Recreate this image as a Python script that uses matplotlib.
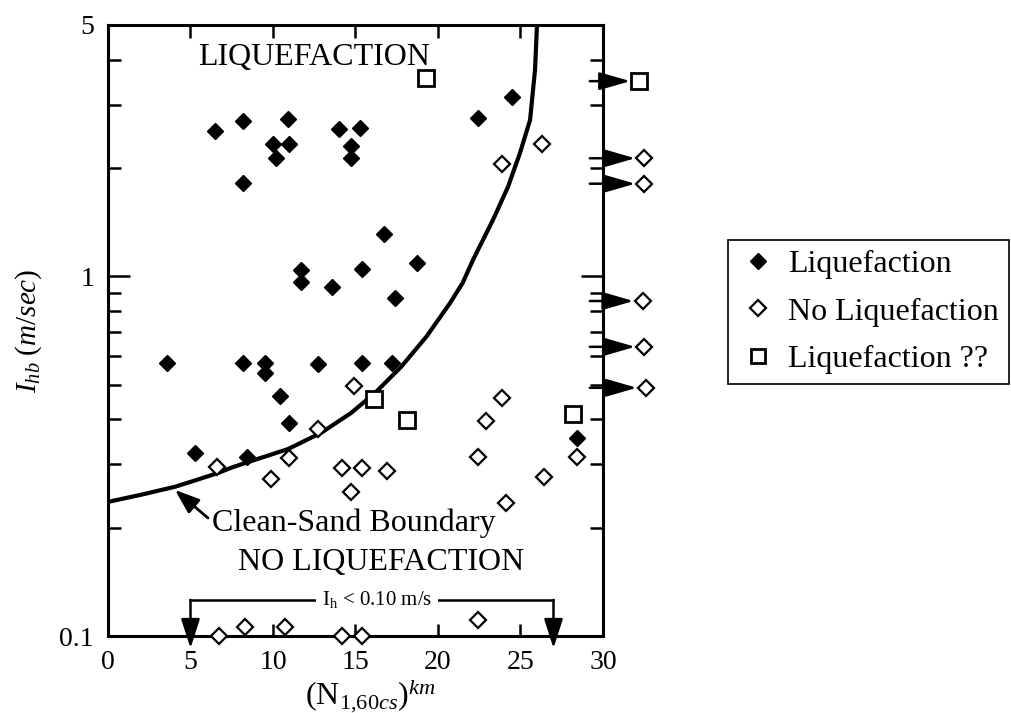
import matplotlib
matplotlib.use("Agg")
import matplotlib.pyplot as plt
from matplotlib.ticker import FixedLocator, FixedFormatter, NullFormatter
from matplotlib.lines import Line2D

plt.rcParams['font.family'] = ['Liberation Serif', 'DejaVu Serif']
plt.rcParams['mathtext.fontset'] = 'custom'
plt.rcParams['mathtext.rm'] = 'Liberation Serif'
plt.rcParams['mathtext.it'] = 'Liberation Serif:italic'
plt.rcParams['mathtext.bf'] = 'Liberation Serif:bold'

# Sites where liquefaction was observed: (N1,60cs)^km and Ihb (m/s)
liq_n = [6.5, 8.2, 10.9, 10.0, 11.0, 10.2, 8.2, 14.0, 15.3, 14.7, 14.7, 24.5,
         22.4, 16.7, 15.4, 18.7, 11.7, 11.7, 13.6, 17.4, 3.6, 8.2, 9.5, 9.5,
         12.7, 15.4, 17.2, 10.4, 11.0, 5.3, 8.4, 28.4]
liq_i = [2.54, 2.70, 2.74, 2.34, 2.34, 2.13, 1.82, 2.57, 2.59, 2.31, 2.13, 3.16,
         2.76, 1.31, 1.05, 1.09, 1.04, 0.965, 0.934, 0.871, 0.574, 0.574, 0.574, 0.539,
         0.571, 0.574, 0.574, 0.465, 0.391, 0.323, 0.315, 0.355]

# Sites with no liquefaction
noliq_n = [26.3, 23.9, 14.9, 12.7, 11.0, 6.6, 14.2, 15.4, 16.9, 9.9, 14.7, 23.9,
           22.9, 22.4, 26.4, 24.1, 28.4, 22.4, 6.7, 8.3, 10.7, 14.2, 15.4]
noliq_i = [2.34, 2.05, 0.496, 0.376, 0.313, 0.295, 0.293, 0.293, 0.288, 0.273, 0.251, 0.459,
           0.396, 0.315, 0.277, 0.234, 0.315, 0.111, 0.100, 0.106, 0.106, 0.100, 0.100]

# Uncertain liquefaction
unc_n = [19.3, 16.1, 18.1, 28.2]
unc_i = [3.56, 0.456, 0.399, 0.414]

# Sites with (N1,60cs)^km beyond 30, drawn past the right edge
off_noliq_n = [32.5, 32.5, 32.4, 32.5, 32.6]
off_noliq_i = [2.13, 1.81, 0.854, 0.637, 0.490]
off_unc_n = [32.2]
off_unc_i = [3.49]

# Clean-sand boundary
bound_n = [0.0, 2.0, 4.06, 5.3, 6.67, 7.58, 8.91, 10.91, 12.42, 12.91, 14.73, 16.18,
           17.76, 19.3, 20.73, 21.5, 22.12, 23.33, 24.24, 24.97, 25.58, 25.88, 26.0]
bound_i = [0.236, 0.247, 0.260, 0.271, 0.284, 0.295, 0.309, 0.331, 0.358, 0.367, 0.417, 0.474,
           0.560, 0.680, 0.843, 0.960, 1.111, 1.435, 1.773, 2.204, 2.722, 3.750, 5.0]

# Range of sites with Ih < 0.10 m/s
low_range = [5.0, 27.0]

fig = plt.figure(figsize=(10.12, 7.13), dpi=100)
ax = fig.add_axes([108 / 1012, 1 - 636 / 713, 495 / 1012, 611 / 713])

ax.set_xlim(0, 30)
ax.set_yscale('log')
ax.set_ylim(0.1, 5)

ax.plot(bound_n, bound_i, color='black', lw=3.0, solid_capstyle='butt',
        solid_joinstyle='round', zorder=2)

ms_d = 8.3
ax.plot(liq_n, liq_i, ls='none', marker='D', ms=ms_d, mfc='black', mec='black',
        mew=1.0, clip_on=False, zorder=4)
ax.plot(noliq_n, noliq_i, ls='none', marker='D', ms=ms_d * 0.93, mfc='white', mec='black',
        mew=1.6, clip_on=False, zorder=4)
ax.plot(unc_n, unc_i, ls='none', marker='s', ms=11, mfc='white', mec='black',
        mew=2.0, clip_on=False, zorder=4)
ax.plot(off_noliq_n, off_noliq_i, ls='none', marker='D', ms=ms_d * 0.93, mfc='white',
        mec='black', mew=1.6, clip_on=False, zorder=4)
ax.plot(off_unc_n, off_unc_i, ls='none', marker='s', ms=11, mfc='white', mec='black',
        mew=2.0, clip_on=False, zorder=4)

# Arrows pointing to off-scale sites
for xn, yi in list(zip(off_noliq_n, off_noliq_i)) + list(zip(off_unc_n, off_unc_i)):
    ax.annotate('', xy=(xn - 0.55, yi), xytext=(29.2, yi),
                arrowprops=dict(arrowstyle='-|>,head_length=19,head_width=5.5',
                                mutation_scale=1, lw=1.8, color='black',
                                shrinkA=0, shrinkB=0),
                annotation_clip=False, zorder=3)

# Bracket marking sites with Ih < 0.10 m/s
y_br = 0.126
ax.plot(low_range, [y_br, y_br], color='black', lw=1.8, clip_on=False, zorder=3)
for xb in low_range:
    ax.annotate('', xy=(xb, 0.0925), xytext=(xb, y_br),
                arrowprops=dict(arrowstyle='-|>,head_length=18,head_width=5.8',
                                mutation_scale=1, lw=1.8, color='black',
                                shrinkA=0, shrinkB=0),
                annotation_clip=False, zorder=5)
ax.text(16.3, y_br, r'$\mathrm{I_h}$ < 0.10 m/s', fontsize=15, ha='center', va='center',
        bbox=dict(facecolor='white', edgecolor='none', pad=4), zorder=4)

# Region labels
ax.text(5.45, 4.07, 'LIQUEFACTION', fontsize=23, ha='left', va='center')
ax.text(7.88, 0.1596, 'NO LIQUEFACTION', fontsize=23, ha='left', va='center')
ax.text(6.3, 0.206, 'Clean-Sand Boundary', fontsize=23, ha='left', va='center')
ax.annotate('', xy=(4.06, 0.2547), xytext=(6.06, 0.2129),
            arrowprops=dict(arrowstyle='-|>,head_length=15,head_width=5.5',
                            mutation_scale=1, lw=2.0, color='black',
                            shrinkA=0, shrinkB=0))

# Axes styling
for sp in ax.spines.values():
    sp.set_linewidth(2.2)
ax.xaxis.set_major_locator(FixedLocator([0, 5, 10, 15, 20, 25, 30]))
ax.yaxis.set_major_locator(FixedLocator([0.1, 1, 5]))
ax.yaxis.set_major_formatter(FixedFormatter(['0.1', '1', '5']))
ax.yaxis.set_minor_locator(FixedLocator([0.2, 0.3, 0.4, 0.5, 0.6, 0.7, 0.8, 0.9, 2, 3, 4]))
ax.yaxis.set_minor_formatter(NullFormatter())
ax.tick_params(axis='both', which='both', direction='in', top=True, right=True,
               width=1.8, labelsize=20, pad=10)
ax.tick_params(axis='x', which='major', length=9)
ax.tick_params(axis='y', which='major', length=16)
ax.tick_params(axis='y', which='minor', length=9.5)

ax.set_xlabel(r'$(\mathrm{N}_{1{,}60\mathit{cs}})^{\mathit{km}}$', fontsize=23)
ax.xaxis.set_label_coords(0.53, -0.068, transform=ax.transAxes)
ax.xaxis.label.set_va('top')
ax.set_ylabel(r'$I_{hb}\ (m/sec)$', fontsize=21)
ax.yaxis.set_label_coords(-0.13, 0.5)

# Legend
handles = [
    Line2D([], [], ls='none', marker='D', ms=ms_d, mfc='black', mec='black', mew=1.0),
    Line2D([], [], ls='none', marker='D', ms=ms_d * 0.93, mfc='white', mec='black', mew=1.6),
    Line2D([], [], ls='none', marker='s', ms=10, mfc='white', mec='black', mew=2.0),
]
labels = ['Liquefaction', 'No Liquefaction', 'Liquefaction ??']
leg = fig.legend(handles, labels, loc='upper left',
                 bbox_to_anchor=(728 / 1012, 1 - 240 / 713), bbox_transform=fig.transFigure,
                 fontsize=23, frameon=True, fancybox=False, edgecolor='black',
                 handlelength=1.25, handletextpad=0.32, labelspacing=0.56,
                 borderpad=0.31, borderaxespad=0, framealpha=1)
leg.get_frame().set_linewidth(1.2)

fig.savefig('out.png', dpi=100, facecolor='white')
